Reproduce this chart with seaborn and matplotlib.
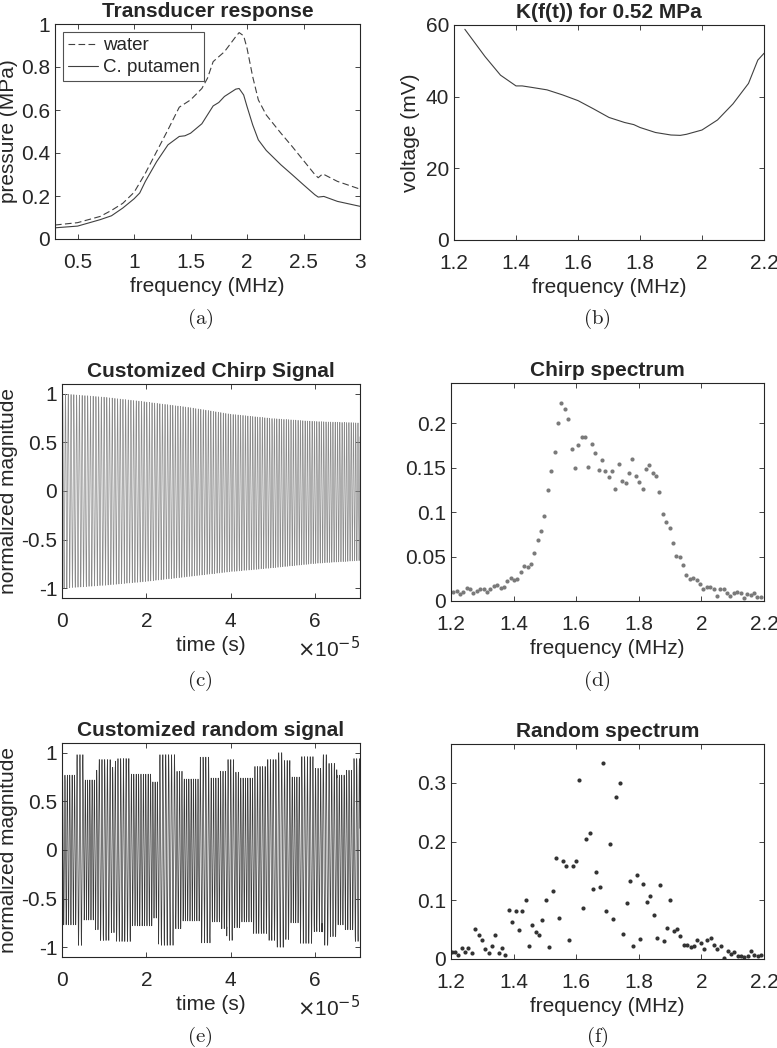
import numpy as np
import pandas as pd
import matplotlib
matplotlib.use("Agg")
import matplotlib.pyplot as plt
import matplotlib.ticker as mticker
import seaborn as sns

# ---------------- data ----------------
# (a) transducer response, pressure (MPa) vs frequency (MHz)
water_freq = [0.3, 0.5, 0.7, 0.8, 0.9, 1.0, 1.1, 1.2, 1.3, 1.4, 1.5, 1.6, 1.65, 1.7, 1.8,
              1.9, 1.93, 1.97, 2.0, 2.05, 2.1, 2.17, 2.3, 2.4, 2.5, 2.6, 2.63, 2.67, 2.8, 3.0]
water_p = [0.065, 0.076, 0.105, 0.133, 0.166, 0.217, 0.306, 0.407, 0.508, 0.613, 0.647, 0.70,
           0.748, 0.825, 0.871, 0.941, 0.96, 0.945, 0.887, 0.755, 0.647, 0.577, 0.492, 0.43,
           0.365, 0.30, 0.285, 0.303, 0.268, 0.232]
putamen_freq = [0.3, 0.5, 0.7, 0.8, 0.9, 1.0, 1.05, 1.1, 1.2, 1.3, 1.4, 1.45, 1.5, 1.6, 1.7,
                1.75, 1.8, 1.9, 1.93, 1.97, 2.0, 2.05, 2.1, 2.17, 2.3, 2.4, 2.5, 2.6, 2.63,
                2.68, 2.8, 3.0]
putamen_p = [0.052, 0.060, 0.09, 0.108, 0.144, 0.187, 0.214, 0.268, 0.36, 0.438, 0.477, 0.48,
             0.492, 0.536, 0.619, 0.635, 0.663, 0.697, 0.70, 0.67, 0.616, 0.531, 0.461, 0.412,
             0.345, 0.299, 0.252, 0.206, 0.195, 0.198, 0.175, 0.152]

# (b) K(f(t)) for 0.52 MPa, voltage (mV)
k_freq = [1.235, 1.3, 1.35, 1.4, 1.42, 1.45, 1.5, 1.55, 1.6, 1.65, 1.7, 1.75, 1.78, 1.8,
          1.85, 1.9, 1.93, 1.95, 2.0, 2.05, 2.1, 2.15, 2.18, 2.2]
k_volt = [58.8, 51.2, 46.0, 43.0, 43.0, 42.6, 41.9, 40.5, 38.9, 36.6, 34.2, 32.8, 32.2, 31.4,
          30.0, 29.3, 29.2, 29.5, 30.7, 33.5, 38.0, 43.7, 50.2, 52.1]

# (c) chirp: envelope (time in 1e-5 s) and sweep limits (MHz)
chirp_env_t = [0, 1, 2, 3, 4, 5, 6, 7.07]
chirp_env_up = [1.0, 0.965, 0.915, 0.86, 0.79, 0.745, 0.715, 0.70]
chirp_env_lo = [-1.0, -0.97, -0.93, -0.88, -0.83, -0.79, -0.745, -0.715]
chirp_f_start, chirp_f_end = 1.5, 1.87

# (d) chirp spectrum
chirp_spec = [0.010, 0.011, 0.008, 0.010, 0.015, 0.013, 0.009, 0.011, 0.014, 0.014,
              0.010, 0.013, 0.017, 0.018, 0.015, 0.016, 0.022, 0.026, 0.024, 0.025,
              0.033, 0.039, 0.038, 0.042, 0.054, 0.068, 0.079, 0.096, 0.125, 0.146,
              0.168, 0.200, 0.222, 0.216, 0.204, 0.171, 0.150, 0.175, 0.184, 0.184,
              0.151, 0.177, 0.166, 0.147, 0.159, 0.146, 0.139, 0.146, 0.126, 0.154,
              0.135, 0.133, 0.144, 0.160, 0.140, 0.134, 0.126, 0.148, 0.153, 0.144,
              0.140, 0.123, 0.098, 0.089, 0.082, 0.065, 0.051, 0.050, 0.040, 0.029,
              0.025, 0.026, 0.024, 0.019, 0.013, 0.016, 0.016, 0.013, 0.006, 0.013,
              0.014, 0.009, 0.006, 0.009, 0.010, 0.009, 0.003, 0.008, 0.007, 0.009,
              0.005, 0.005]
chirp_spec_f = np.linspace(1.207, 2.19, len(chirp_spec))

# (e) random signal: segments (edges in 1e-5 s), amplitude and carrier (MHz)
rand_edges = [0, 0.34, 0.514, 0.79, 0.87, 1.146, 1.265, 1.62, 2.134, 2.29, 2.69, 2.85, 3.28,
              3.52, 3.755, 3.91, 4.07, 4.23, 4.545, 4.86, 5.10, 5.26, 5.415, 5.65, 5.97, 6.17,
              6.32, 6.52, 6.72, 6.92, 7.07]
rand_amp = [0.77, 0.98, 0.72, 0.82, 0.93, 0.85, 0.94, 0.78, 0.70, 0.98, 0.81, 0.73, 0.955,
            0.74, 0.81, 0.93, 0.80, 0.74, 0.86, 0.93, 1.0, 0.92, 0.75, 0.96, 0.84, 0.98, 0.89,
            0.77, 0.82, 0.94]
rand_freq = [1.76, 1.45, 1.86, 1.72, 1.55, 1.65, 1.55, 1.76, 1.88, 1.45, 1.72, 1.84, 1.53,
             1.8, 1.72, 1.55, 1.73, 1.8, 1.65, 1.56, 1.42, 1.6, 1.8, 1.52, 1.66, 1.45, 1.6,
             1.76, 1.71, 1.55]

# (f) random spectrum
rand_spec = [0.0114, 0.0114, 0.0063, 0.0188, 0.0114, 0.0188, 0.0102, 0.0517, 0.0403, 0.033,
             0.017, 0.0102, 0.0216, 0.0403, 0.0102, 0.0188, 0.0063, 0.0841, 0.063, 0.0813,
             0.0489, 0.0813, 0.100, 0.0227, 0.0585, 0.0466, 0.0403, 0.067, 0.100, 0.0199,
             0.1153, 0.1722, 0.0705, 0.1665, 0.158, 0.033, 0.158, 0.1665, 0.304, 0.0869,
             0.2051, 0.2148, 0.1199, 0.1477, 0.1222, 0.333, 0.0813, 0.196, 0.0682, 0.2756,
             0.2989, 0.0426, 0.0955, 0.1324, 0.0216, 0.1438, 0.0341, 0.1284, 0.0972, 0.1068,
             0.0744, 0.0358, 0.1267, 0.0301, 0.0528, 0.100, 0.0472, 0.0517, 0.0386, 0.0244,
             0.0244, 0.0199, 0.0216, 0.0318, 0.0273, 0.017, 0.0318, 0.0358, 0.0244, 0.017,
             0.0227, 0.0017, 0.0131, 0.0091, 0.0119, 0.0045, 0.0045, 0.0028, 0.0045, 0.0142,
             0.0063, 0.0045, 0.0074]
rand_spec_f = np.linspace(1.202, 2.191, len(rand_spec))

# ---------------- build the two time signals ----------------
T_END = 7.07e-5
t = np.linspace(0, T_END, 7000)
dt = t[1] - t[0]

f_inst = (chirp_f_start + (chirp_f_end - chirp_f_start) * t / T_END) * 1e6
s = np.sin(2 * np.pi * np.cumsum(f_inst) * dt)
up = np.interp(t, np.array(chirp_env_t) * 1e-5, chirp_env_up)
lo = np.interp(t, np.array(chirp_env_t) * 1e-5, chirp_env_lo)
chirp = pd.DataFrame({"t": t, "y": np.where(s >= 0, up * s, -lo * s)})

seg = np.clip(np.searchsorted(np.array(rand_edges) * 1e-5, t, side="right") - 1, 0, len(rand_amp) - 1)
f_rand = np.array(rand_freq)[seg] * 1e6
rnd = pd.DataFrame({"t": t, "y": np.array(rand_amp)[seg] * np.sin(2 * np.pi * np.cumsum(f_rand) * dt)})

# ---------------- style ----------------
FS = 15
sns.set_theme(style="white")
plt.rcParams["font.family"] = ["Liberation Sans", "DejaVu Sans"]
plt.rcParams.update({
    "axes.edgecolor": "#262626", "axes.linewidth": 0.8,
    "xtick.direction": "in", "ytick.direction": "in",
    "xtick.top": True, "ytick.right": True,
    "xtick.bottom": True, "ytick.left": True,
    "xtick.major.size": 3.5, "ytick.major.size": 3.5,
    "xtick.major.width": 0.6, "ytick.major.width": 0.6,
    "xtick.color": "#262626", "ytick.color": "#262626",
    "xtick.labelsize": FS, "ytick.labelsize": FS,
    "xtick.major.pad": 10, "ytick.major.pad": 3.5,
    "axes.labelsize": FS, "axes.labelcolor": "#262626",
    "axes.titlesize": 15, "axes.titleweight": "bold", "axes.titlepad": 5,
})

W, H = 777, 1048
fig = plt.figure(figsize=(W / 100, H / 100), dpi=100)


def add_ax(left, top, right, bottom):
    return fig.add_axes([left / W, 1 - bottom / H, (right - left) / W, (bottom - top) / H])


fmt = mticker.FuncFormatter(lambda v, p: f"{v:g}")
LINE = "#404040"

# (a)
ax = add_ax(55, 24, 360, 239)
sns.lineplot(x=water_freq, y=water_p, ax=ax, color=LINE, lw=0.8, linestyle=(0, (6, 3)),
             label="water", estimator=None, sort=False)
sns.lineplot(x=putamen_freq, y=putamen_p, ax=ax, color=LINE, lw=0.8,
             label="C. putamen", estimator=None, sort=False)
ax.set_xlim(0.3, 3)
ax.set_ylim(0, 1)
ax.set_xticks([0.5, 1, 1.5, 2, 2.5, 3])
ax.set_yticks([0, 0.2, 0.4, 0.6, 0.8, 1])
ax.xaxis.set_major_formatter(fmt)
ax.yaxis.set_major_formatter(fmt)
ax.set_title("Transducer response")
ax.set_xlabel("frequency (MHz)")
ax.set_ylabel("pressure (MPa)", labelpad=2)
leg = ax.legend(loc="upper left", fontsize=13.5, frameon=True, fancybox=False,
                edgecolor="#262626", handlelength=1.6, borderaxespad=0.45,
                borderpad=0.25, labelspacing=0.25, handletextpad=0.25)
leg.get_frame().set_linewidth(0.8)

# (b)
ax = add_ax(454, 25, 764, 240)
sns.lineplot(x=k_freq, y=k_volt, ax=ax, color=LINE, lw=0.8, estimator=None, sort=False)
ax.set_xlim(1.2, 2.2)
ax.set_ylim(0, 60)
ax.set_xticks([1.2, 1.4, 1.6, 1.8, 2.0, 2.2])
ax.set_yticks([0, 20, 40, 60])
ax.xaxis.set_major_formatter(fmt)
ax.yaxis.set_major_formatter(fmt)
ax.set_title("K(f(t)) for 0.52 MPa")
ax.set_xlabel("frequency (MHz)")
ax.set_ylabel("voltage (mV)", labelpad=4)

# (c) and (e)
for (l, tp, r, b), df, col, title in [((62, 384, 360, 598), chirp, "#8a8a8a", "Customized Chirp Signal"),
                                      ((62, 743, 360, 957), rnd, "#3a3a3a", "Customized random signal")]:
    ax = add_ax(l, tp, r, b)
    sns.lineplot(data=df, x="t", y="y", ax=ax, color=col, lw=0.5, estimator=None, sort=False)
    ax.set_xlim(0, T_END)
    ax.set_ylim(-1.1, 1.1)
    ax.set_xticks([0, 2e-5, 4e-5, 6e-5])
    ax.xaxis.set_major_formatter(mticker.FuncFormatter(lambda v, p: f"{v * 1e5:g}"))
    ax.set_yticks([-1, -0.5, 0, 0.5, 1])
    ax.yaxis.set_major_formatter(fmt)
    ax.set_title(title)
    ax.set_xlabel("time (s)")
    ax.set_ylabel("normalized magnitude", labelpad=2)
    ax.text(1.0, -0.235, r"$\times$10$^{-5}$", transform=ax.transAxes, ha="right", va="center",
            fontsize=FS, color="#262626")

# (d) and (f)
for (l, tp, r, b), fx, fy, col, top, yt, title in [
        ((451, 383, 764, 601), chirp_spec_f, chirp_spec, "#7a7a7a", 0.245,
         [0, 0.05, 0.1, 0.15, 0.2], "Chirp spectrum"),
        ((451, 744, 764, 959), rand_spec_f, rand_spec, "#333333", 0.366,
         [0, 0.1, 0.2, 0.3], "Random spectrum")]:
    ax = add_ax(l, tp, r, b)
    sns.scatterplot(x=fx, y=fy, ax=ax, color=col, s=9, linewidth=0)
    ax.set_xlim(1.2, 2.2)
    ax.set_ylim(0, top)
    ax.set_xticks([1.2, 1.4, 1.6, 1.8, 2.0, 2.2])
    ax.set_yticks(yt)
    ax.xaxis.set_major_formatter(fmt)
    ax.yaxis.set_major_formatter(fmt)
    ax.set_title(title)
    ax.set_xlabel("frequency (MHz)")

# sub-figure captions
for x, y, lab in [(200, 319, "a"), (597, 319, "b"), (200, 681, "c"), (597, 681, "d"),
                  (200, 1037, "e"), (597, 1037, "f")]:
    fig.text(x / W, 1 - y / H, r"$\mathrm{(" + lab + r")}$", ha="center", va="center",
             fontsize=15, math_fontfamily="cm", color="#222222")

fig.savefig("out.png", dpi=100)
